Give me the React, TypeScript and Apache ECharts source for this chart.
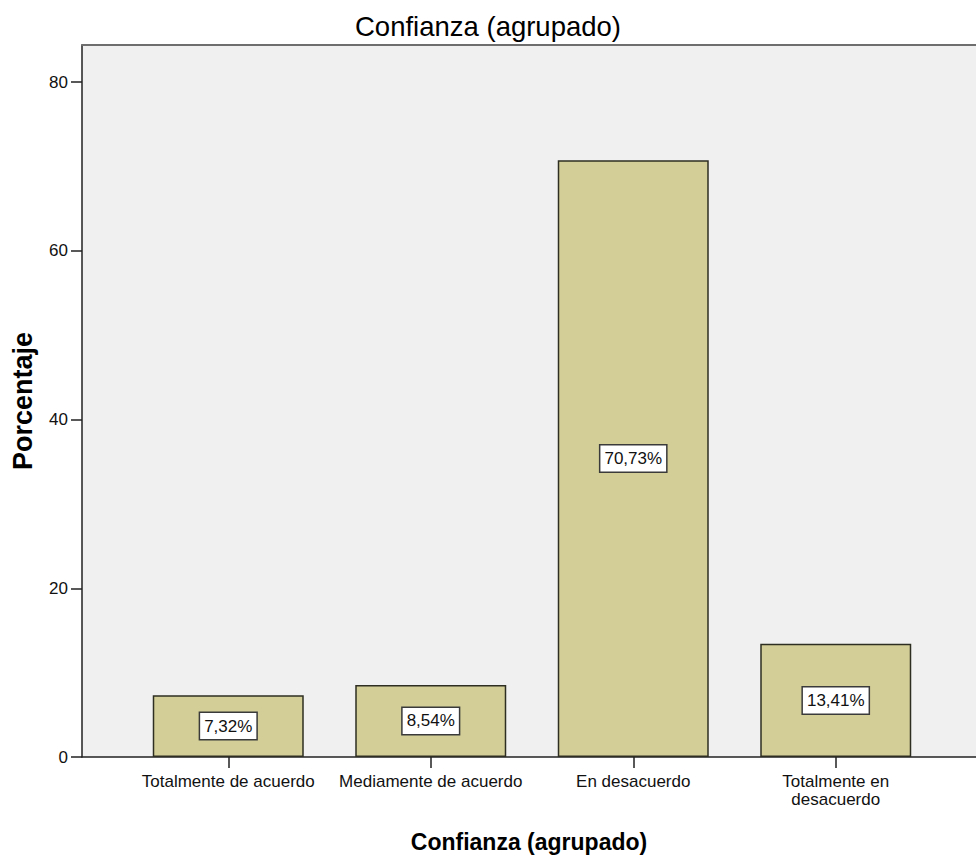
import React, { useEffect, useRef } from "react";
import * as echarts from "echarts";

const TITLE = "Confianza (agrupado)";
const X_NAME = "Confianza (agrupado)";
const Y_NAME = "Porcentaje";
const categories = [
  "Totalmente de acuerdo",
  "Mediamente de acuerdo",
  "En desacuerdo",
  "Totalmente en desacuerdo",
];
const percentages = [7.32, 8.54, 70.73, 13.41];
const yMin = 0;
const yMax = 80;
const yInterval = 20;

const FONT = "'Liberation Sans', Arial, sans-serif";

export default function App() {
  const ref = useRef<HTMLDivElement>(null);
  useEffect(() => {
    if (!ref.current) return;
    const chart = echarts.init(ref.current, null, { renderer: "svg" });
    const axisColor = "#222";
    chart.setOption({
      animation: false,
      backgroundColor: "#ffffff",
      textStyle: { fontFamily: FONT },
      title: {
        text: TITLE,
        left: "center",
        top: 7,
        textStyle: {
          fontFamily: FONT,
          fontSize: 27.5,
          fontWeight: "normal",
          color: "#000",
        },
      },
      grid: [
        {
          left: 82,
          right: 0,
          top: 45,
          bottom: 101,
          show: true,
          backgroundColor: "#F0F0F0",
          borderWidth: 0,
          containLabel: false,
          outerBoundsMode: "none",
        },
        {
          left: 127,
          width: 810,
          top: 82,
          bottom: 101,
          containLabel: false,
          outerBoundsMode: "none",
        },
      ],
      xAxis: [
        {
          gridIndex: 0,
          type: "value",
          min: 0,
          max: 1,
          axisLine: { show: true, lineStyle: { color: axisColor, width: 1.5 } },
          axisTick: { show: false },
          axisLabel: { show: false },
          splitLine: { show: false },
          name: X_NAME,
          nameLocation: "middle",
          nameGap: 73,
          nameTextStyle: {
            fontFamily: FONT,
            fontSize: 23,
            fontWeight: "bold",
            color: "#000",
          },
        },
        {
          gridIndex: 0,
          type: "value",
          position: "top",
          min: 0,
          max: 1,
          axisLine: { show: true, lineStyle: { color: "#6e6e6e", width: 2 } },
          axisTick: { show: false },
          axisLabel: { show: false },
          splitLine: { show: false },
        },
        {
          gridIndex: 1,
          type: "category",
          data: categories,
          axisLine: { show: false },
          axisTick: {
            show: true,
            alignWithLabel: true,
            length: 11,
            lineStyle: { color: axisColor, width: 1.5 },
          },
          axisLabel: {
            interval: 0,
            margin: 15,
            fontFamily: FONT,
            fontSize: 17,
            lineHeight: 18,
            color: "#111",
            formatter: (v: string) => {
              if (v.length > 22) {
                const i = v.lastIndexOf(" ");
                return v.slice(0, i) + "\n" + v.slice(i + 1);
              }
              return v;
            },
          },
          splitLine: { show: false },
        },
      ],
      yAxis: [
        {
          gridIndex: 0,
          type: "value",
          min: 0,
          max: 1,
          axisLine: { show: true, lineStyle: { color: axisColor, width: 1.5 } },
          axisTick: { show: false },
          axisLabel: { show: false },
          splitLine: { show: false },
          name: Y_NAME,
          nameLocation: "middle",
          nameGap: 46,
          nameRotate: 90,
          nameTextStyle: {
            fontFamily: FONT,
            fontSize: 27,
            fontWeight: "bold",
            color: "#000",
          },
        },
        {
          gridIndex: 1,
          type: "value",
          min: yMin,
          max: yMax,
          interval: yInterval,
          offset: 45,
          axisLine: { show: false },
          axisTick: {
            show: true,
            length: 11,
            lineStyle: { color: axisColor, width: 1.5 },
          },
          axisLabel: {
            margin: 14,
            fontFamily: FONT,
            fontSize: 17,
            color: "#111",
          },
          splitLine: { show: false },
        },
      ],
      series: [
        {
          type: "bar",
          xAxisIndex: 2,
          yAxisIndex: 1,
          data: percentages,
          barWidth: 151,
          itemStyle: {
            color: "#D3CE97",
            borderColor: "#2e2e22",
            borderWidth: 1.5,
          },
          label: {
            show: true,
            position: "inside",
            formatter: (p: any) => p.value.toFixed(2).replace(".", ",") + "%",
            fontFamily: FONT,
            fontSize: 17,
            color: "#111",
            backgroundColor: "#ffffff",
            borderColor: "#3a3a3a",
            borderWidth: 1.5,
            padding: [5, 4, 4, 4],
          },
        },
      ],
    });
    return () => chart.dispose();
  }, []);
  return (
    <div
      ref={ref}
      style={{ position: "absolute", left: 0, top: 0, width: 976, height: 858 }}
    />
  );
}
